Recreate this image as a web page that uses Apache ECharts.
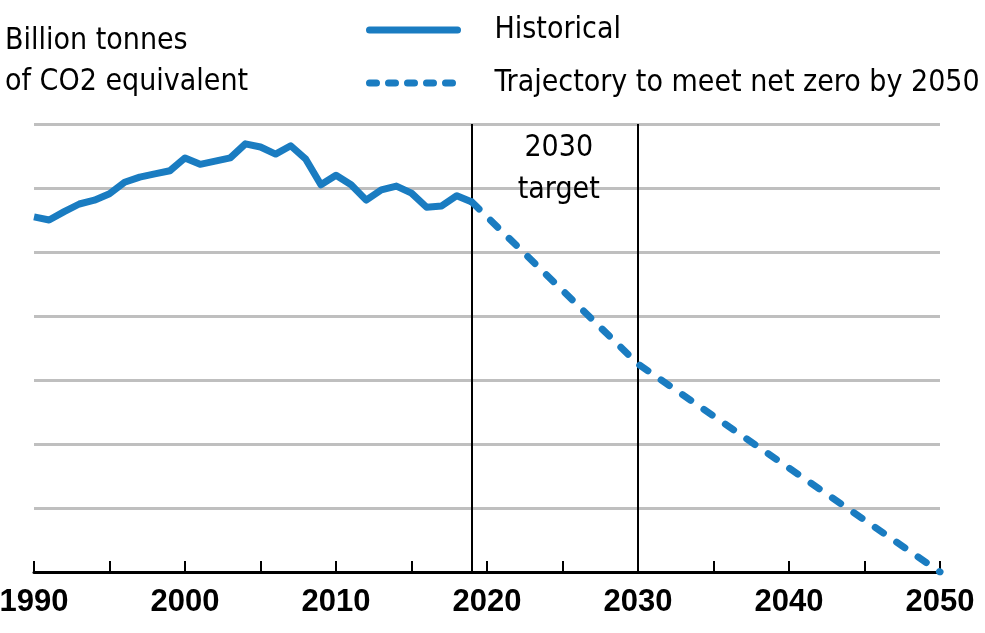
<!DOCTYPE html>
<html>
<head>
<meta charset="utf-8">
<script src="https://cdn.jsdelivr.net/npm/echarts@6/dist/echarts.min.js"></script>
<style>html,body{margin:0;padding:0;background:#fff}#c{width:985px;height:633px}</style>
</head>
<body>
<div id="c"></div>
<script>
const historicalYears = [1990,1991,1992,1993,1994,1995,1996,1997,1998,1999,2000,2001,2002,2003,2004,2005,2006,2007,2008,2009,2010,2011,2012,2013,2014,2015,2016,2017,2018,2019];
const historicalValues = [5.55,5.50,5.63,5.75,5.81,5.91,6.09,6.17,6.22,6.27,6.47,6.37,6.42,6.47,6.69,6.64,6.53,6.66,6.45,6.05,6.20,6.05,5.81,5.97,6.03,5.92,5.70,5.72,5.88,5.78];
const trajectoryYears = [2019, 2030, 2050];
const trajectoryValues = [5.78, 3.25, 0];
const markerYears = [2019, 2030];
const annotationText = '2030\ntarget';
const xTickLabels = ['1990','2000','2010','2020','2030','2040','2050'];

const FONT = "'DejaVu Sans Condensed','Liberation Sans',sans-serif";
const AXFONT = "'Liberation Sans','Arimo',sans-serif";
const BLUE = '#1a7cc1';

const chart = echarts.init(document.getElementById('c'), null, {renderer: 'canvas'});
chart.setOption({
  animation: false,
  backgroundColor: '#fff',
  title: {
    text: 'Billion tonnes\nof CO2 equivalent',
    left: 5, top: 21, padding: 0,
    textStyle: {fontFamily: FONT, fontSize: 30, lineHeight: 41, fontWeight: 'normal', color: '#000'}
  },
  legend: {
    orient: 'vertical', left: 366, top: 10, padding: 0,
    itemWidth: 88, itemHeight: 10, itemGap: 13,
    itemStyle: {opacity: 0},
    textStyle: {fontFamily: FONT, fontSize: 30, lineHeight: 40, color: '#000', padding: [0,0,0,32]},
    data: [
      {name: 'Historical', lineStyle: {width: 7, cap: 'round'}},
      {name: 'Trajectory to meet net zero by 2050', lineStyle: {width: 7, cap: 'round', type: [7, 12]}}
    ]
  },
  grid: {left: 34, right: 45, top: 124, bottom: 61, containLabel: false, outerBoundsMode: 'none'},
  xAxis: {
    type: 'value', min: 1990, max: 2050, interval: 10,
    axisLine: {lineStyle: {color: '#000', width: 3}},
    axisTick: {show: true, inside: true, length: 11, lineStyle: {color: '#000', width: 2}},
    minorTick: {show: true, splitNumber: 2, length: 11, lineStyle: {color: '#000', width: 2}},
    splitLine: {show: false},
    axisLabel: {
      fontFamily: AXFONT, fontSize: 31, fontWeight: 'bold', color: '#000', margin: 15,
      formatter: v => xTickLabels.includes(String(v)) ? String(v) : ''
    }
  },
  yAxis: {
    type: 'value', min: 0, max: 7, interval: 1,
    axisLine: {show: false}, axisTick: {show: false},
    axisLabel: {show: false},
    splitLine: {lineStyle: {color: '#bfbfbf', width: 3}}
  },
  series: [
    {
      name: 'Historical', type: 'line', symbol: 'none', z: 3,
      data: historicalYears.map((y, i) => [y, historicalValues[i]]),
      lineStyle: {color: BLUE, width: 7, join: 'round'},
      itemStyle: {color: BLUE},
      markLine: {
        silent: true, symbol: 'none', z: 1,
        lineStyle: {color: '#000', width: 2, type: 'solid'},
        label: {show: false},
        data: markerYears.map(y => ({xAxis: y}))
      },
      markPoint: {
        silent: true, symbolSize: 0,
        label: {show: true, position: 'inside', formatter: annotationText,
          fontFamily: FONT, fontSize: 30, lineHeight: 42, color: '#000'},
        data: [{coord: [2024.75, 6.30]}]
      }
    },
    {
      name: 'Trajectory to meet net zero by 2050', type: 'line', symbol: 'none', z: 3,
      data: trajectoryYears.map((y, i) => [y, trajectoryValues[i]]),
      lineStyle: {color: BLUE, width: 7, type: [10, 16], cap: 'round'},
      itemStyle: {color: BLUE}
    }
  ]
});
</script>
</body>
</html>
